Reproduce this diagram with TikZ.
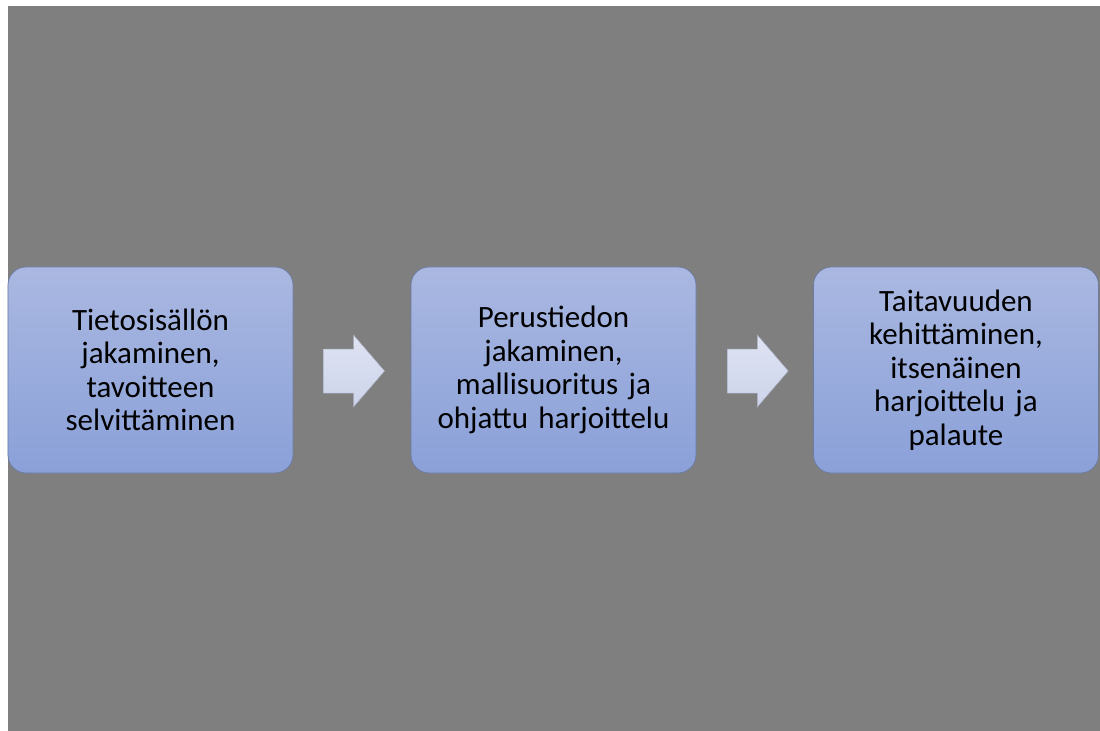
\documentclass[tikz,border=0pt]{standalone}
\usepackage{fontspec}
\setmainfont{Carlito}
\usetikzlibrary{calc}
\definecolor{slide}{HTML}{7F7F7F}
\definecolor{boxtop}{HTML}{AAB8E1}
\definecolor{boxbot}{HTML}{8AA0D8}
\definecolor{boxline}{HTML}{6C7BA3}
\definecolor{arrtop}{HTML}{DFE3F3}
\definecolor{arrbot}{HTML}{CDD4EA}
\definecolor{arrline}{HTML}{A9AFC4}
\tikzset{
  stepbox/.style={rectangle, rounded corners=18bp, draw=boxline, line width=0.7bp,
    top color=boxtop, bottom color=boxbot,
    minimum width=285bp, minimum height=206bp, text width=270bp, align=center,
    font=\fontsize{31bp}{33.5bp}\selectfont, text=black, inner sep=0pt},
  flowarrow/.style={draw=arrline, line width=0.5bp, top color=arrtop, bottom color=arrbot}
}
\begin{document}
\begin{tikzpicture}[x=1bp, y=-1bp]
  \useasboundingbox (0,0) rectangle (1100,731);
  \fill[white] (0,0) rectangle (1100,731);
  \fill[slide] (8,6) rectangle (1100,731);

  \node[stepbox] (b1) at (150.5,370) {Tietosisällön\\jakaminen,\\tavoitteen\\selvittäminen};
  \node[stepbox] (b2) at (553.5,370) {Perustiedon\\jakaminen,\\mallisuoritus ja\\ohjattu harjoittelu};
  \node[stepbox] (b3) at (956,370) {Taitavuuden\\kehittäminen,\\itsenäinen\\harjoittelu ja\\palaute};

  % block arrows between the steps
  \coordinate (a1) at ($(b1.east)!0.5!(b2.west)+(2,1)$);
  \coordinate (a2) at ($(b2.east)!0.5!(b3.west)+(3,1)$);
  \foreach \c in {a1,a2} {
    \path[flowarrow] ($(\c)+(-30.5,-22)$) -- ($(\c)+(-0.5,-22)$) -- ($(\c)+(-0.5,-36)$)
      -- ($(\c)+(30.5,0)$) -- ($(\c)+(-0.5,36)$) -- ($(\c)+(-0.5,22)$)
      -- ($(\c)+(-30.5,22)$) -- cycle;
  }
\end{tikzpicture}
\end{document}
